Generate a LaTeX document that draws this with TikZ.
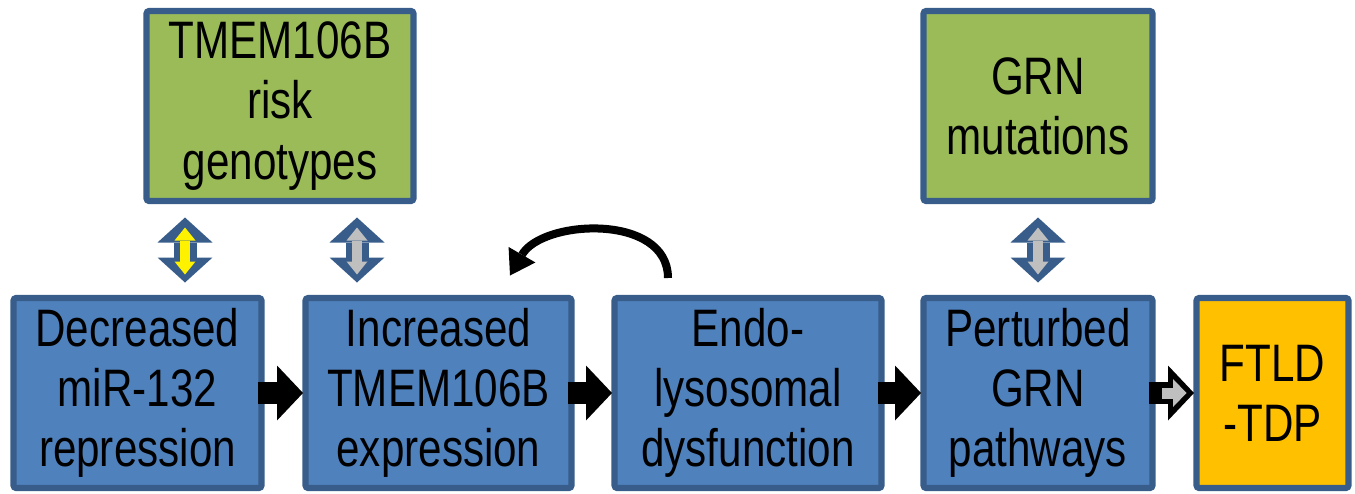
\documentclass[tikz,border=0pt]{standalone}
\usepackage{fontspec}
\setmainfont{Liberation Sans}
\newfontfamily\boxfont[FakeStretch=0.8]{Liberation Sans}
\usepackage{tikz}
\usetikzlibrary{positioning, calc, arrows.meta}
\definecolor{boxblue}{RGB}{79,129,189}
\definecolor{boxgreen}{RGB}{155,187,89}
\definecolor{boxorange}{RGB}{255,192,0}
\definecolor{edgeblue}{RGB}{56,93,138}
\definecolor{coregray}{RGB}{191,191,191}

\begin{document}
\begin{tikzpicture}[
    stage/.style={rectangle, draw=edgeblue, line width=3.5pt, fill=boxblue, rounded corners=1.5pt, minimum height=3.8cm, inner sep=0pt, outer sep=0pt, align=center, font=\boxfont\fontsize{30}{34.2}\selectfont},
    factor/.style={stage, fill=boxgreen},
    outcome/.style={stage, fill=boxorange},
    step_arrow/.style={line width=0.44cm, -{Triangle[length=0.52cm, width=1.1cm, line width=0pt]}, shorten <=-0.08cm, shorten >=0.05cm},
    step_core/.style={coregray, line width=0.22cm, -{Triangle[length=0.27cm, width=0.56cm, line width=0pt]}, shorten <=0.19cm, shorten >=0.2cm},
    updown/.style={edgeblue, line width=0.46cm, {Triangle[length=0.5cm, width=1.1cm, line width=0pt]}-{Triangle[length=0.5cm, width=1.1cm, line width=0pt]}, shorten <=0.33cm, shorten >=0.31cm},
    updown_core/.style={line width=0.2cm, {Triangle[length=0.26cm, width=0.42cm, line width=0pt]}-{Triangle[length=0.26cm, width=0.42cm, line width=0pt]}, shorten <=0.53cm, shorten >=0.47cm},
    loop_arrow/.style={line width=0.16cm, -{Triangle[length=0.48cm, width=0.62cm, line width=0pt]}}]

    \useasboundingbox (0,0) rectangle (27.1,9.86);

    % Main chain
    \node[stage, minimum width=4.96cm] (decr) at (2.75,2.0) {Decreased\\miR-132\\repression};
    \node[stage, minimum width=5.32cm, right=0.88 of decr] (incr) {Increased\\TMEM106B\\expression};
    \node[stage, minimum width=5.34cm, right=0.86 of incr] (endo) {Endo-\\lysosomal\\dysfunction};
    \node[stage, minimum width=4.58cm, right=0.84 of endo] (pert) {Perturbed\\GRN\\pathways};
    \node[outcome, minimum width=3.04cm, right=0.88 of pert] (ftld) {FTLD\\-TDP};

    % Arrows between stages
    \draw[step_arrow] (decr) -- (incr);
    \draw[step_arrow] (incr) -- (endo);
    \draw[step_arrow] (endo) -- (pert);
    \draw[step_arrow] (pert) -- (ftld);
    \draw[step_core] (pert) -- (ftld);

    % Genetic factors
    \node[factor, minimum width=5.34cm, above=1.94 of decr.north east, xshift=0.37cm] (risk) {TMEM106B\\risk\\genotypes};
    \node[factor, minimum width=4.58cm, above=1.94 of pert] (mut) {GRN\\mutations};

    % Up-down arrows
    \coordinate (risk_l) at ([xshift=-1.9cm]risk.south);
    \coordinate (risk_r) at ([xshift=1.54cm]risk.south);
    \draw[updown] (risk_l) -- (risk_l |- decr.north);
    \draw[updown_core, yellow] (risk_l) -- (risk_l |- decr.north);
    \draw[updown] (risk_r) -- (risk_r |- incr.north);
    \draw[updown_core, coregray] (risk_r) -- (risk_r |- incr.north);
    \draw[updown] (mut) -- (pert);
    \draw[updown_core, coregray] (mut) -- (pert);

    % Feedback loop
    \coordinate (loop_start) at ([xshift=-1.6cm, yshift=0.4cm]endo.north);
    \coordinate (loop_end) at ([xshift=1.43cm, yshift=0.45cm]incr.north);
    \draw[loop_arrow] (loop_start) to[out=90, in=60, looseness=1.05] (loop_end);

\end{tikzpicture}
\end{document}
